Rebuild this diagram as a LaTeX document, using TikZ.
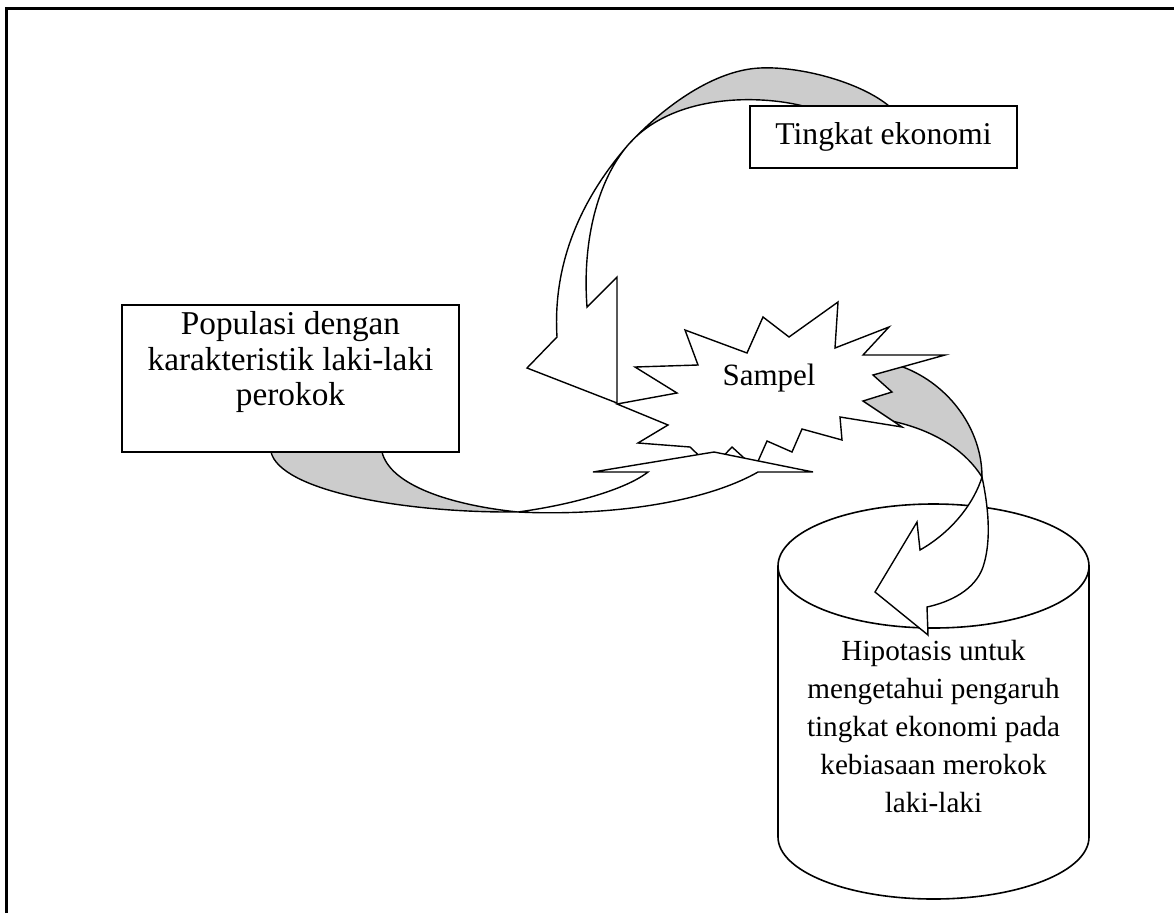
\documentclass[tikz,border=0pt]{standalone}
\usepackage{fontspec}
\setmainfont{Liberation Serif}
\definecolor{ribbon}{RGB}{204,204,204}
\begin{document}
\begin{tikzpicture}[x=1pt,y=-1pt,
  outline/.style={draw=black, line width=1.4pt},
  back/.style={outline, fill=ribbon},
  front/.style={outline, fill=white},
  box/.style={draw=black, line width=1.7pt, fill=white, inner sep=0pt},
  label/.style={inner sep=0pt, align=center, text=black}]

\useasboundingbox (0,0) rectangle (1174,913);

% page frame (left and top rules)
\draw[line width=2.5pt] (6.7,913) -- (6.7,8.3) -- (1174,8.3);

% cylinder (data store)
\draw[outline, line width=1.6pt, fill=white] (778,566) -- (778,837)
  arc[start angle=180, end angle=360, x radius=155.5pt, y radius=62pt] -- (1089,566);
\draw[outline, line width=1.6pt, fill=white] (933.5,566) ellipse[x radius=155.5pt, y radius=62pt];

% curved arrow from the sample down to the cylinder
\draw[back] (840,390) -- (873,362) -- (903,367)
  .. controls (950,385) and (982,430) .. (982,477)
  .. controls (965,450) and (935,432) .. (900,423)
  -- (880,418) -- (845,400) -- cycle;
\draw[front] (982,477) .. controls (988,505) and (992,540) .. (983,567)
  .. controls (975,590) and (950,602) .. (927,607)
  -- (928,635) -- (875,592) -- (917,522) -- (920,550)
  .. controls (955,530) and (975,500) .. (982,477) -- cycle;

% explosion shape for the sample
\draw[front] (617,404) -- (677,393) -- (635,367) -- (698,365) -- (685,330)
  -- (747,353) -- (763,317) -- (789,337) -- (838,302) -- (835,348)
  -- (889,327) -- (863,355) -- (945,355) -- (873,375) -- (892,392)
  -- (863,401) -- (902,427) -- (840,417) -- (842,440) -- (802,429)
  -- (792,452) -- (767,441) -- (755,468) -- (732,447) -- (712,468)
  -- (690,447) -- (638,443) -- (668,425) -- cycle;
\node[label, font=\fontsize{31}{37}\selectfont] (sampel) at (769,378) {Sampel};

% curved arrow from the population up to the sample
\draw[back] (271,440) -- (271,452) .. controls (280,490) and (400,513) .. (518,512)
  .. controls (450,505) and (390,485) .. (382,452) -- (382,440) -- cycle;
\draw[front] (518,512) .. controls (600,516) and (700,505) .. (758,472)
  -- (813,472) -- (714,452) -- (593,472) -- (648,472)
  .. controls (625,490) and (570,505) .. (518,512) -- cycle;

% curved arrow from the economic level down to the sample
\draw[back] (895,125) -- (889,106) .. controls (860,82) and (800,66) .. (760,68)
  .. controls (715,70) and (665,105) .. (628,145)
  .. controls (673,93) and (760,95) .. (803,106) -- (806,125) -- cycle;
\draw[front] (628,145) .. controls (588,191) and (552,255) .. (557,337)
  -- (527,368) -- (617,403) -- (617,277) -- (587,307)
  .. controls (582,240) and (598,180) .. (628,145) -- cycle;

% boxes
\node[box, minimum width=267pt, minimum height=62pt,
      font=\fontsize{31.7}{38}\selectfont] (eko) at (883.5,137) {Tingkat ekonomi};
\node[box, minimum width=337pt, minimum height=147pt] (pop) at (290.5,378.5) {};
\node[label, font=\fontsize{33.3}{35.3}\selectfont] (popt) at (290.5,362)
  {Populasi dengan\\karakteristik laki-laki\\perokok};

% text inside the cylinder
\node[label, font=\fontsize{29.2}{38}\selectfont] (hyp) at (933.5,726)
  {Hipotasis untuk\\mengetahui pengaruh\\tingkat ekonomi pada\\kebiasaan merokok\\laki-laki};
\end{tikzpicture}
\end{document}
